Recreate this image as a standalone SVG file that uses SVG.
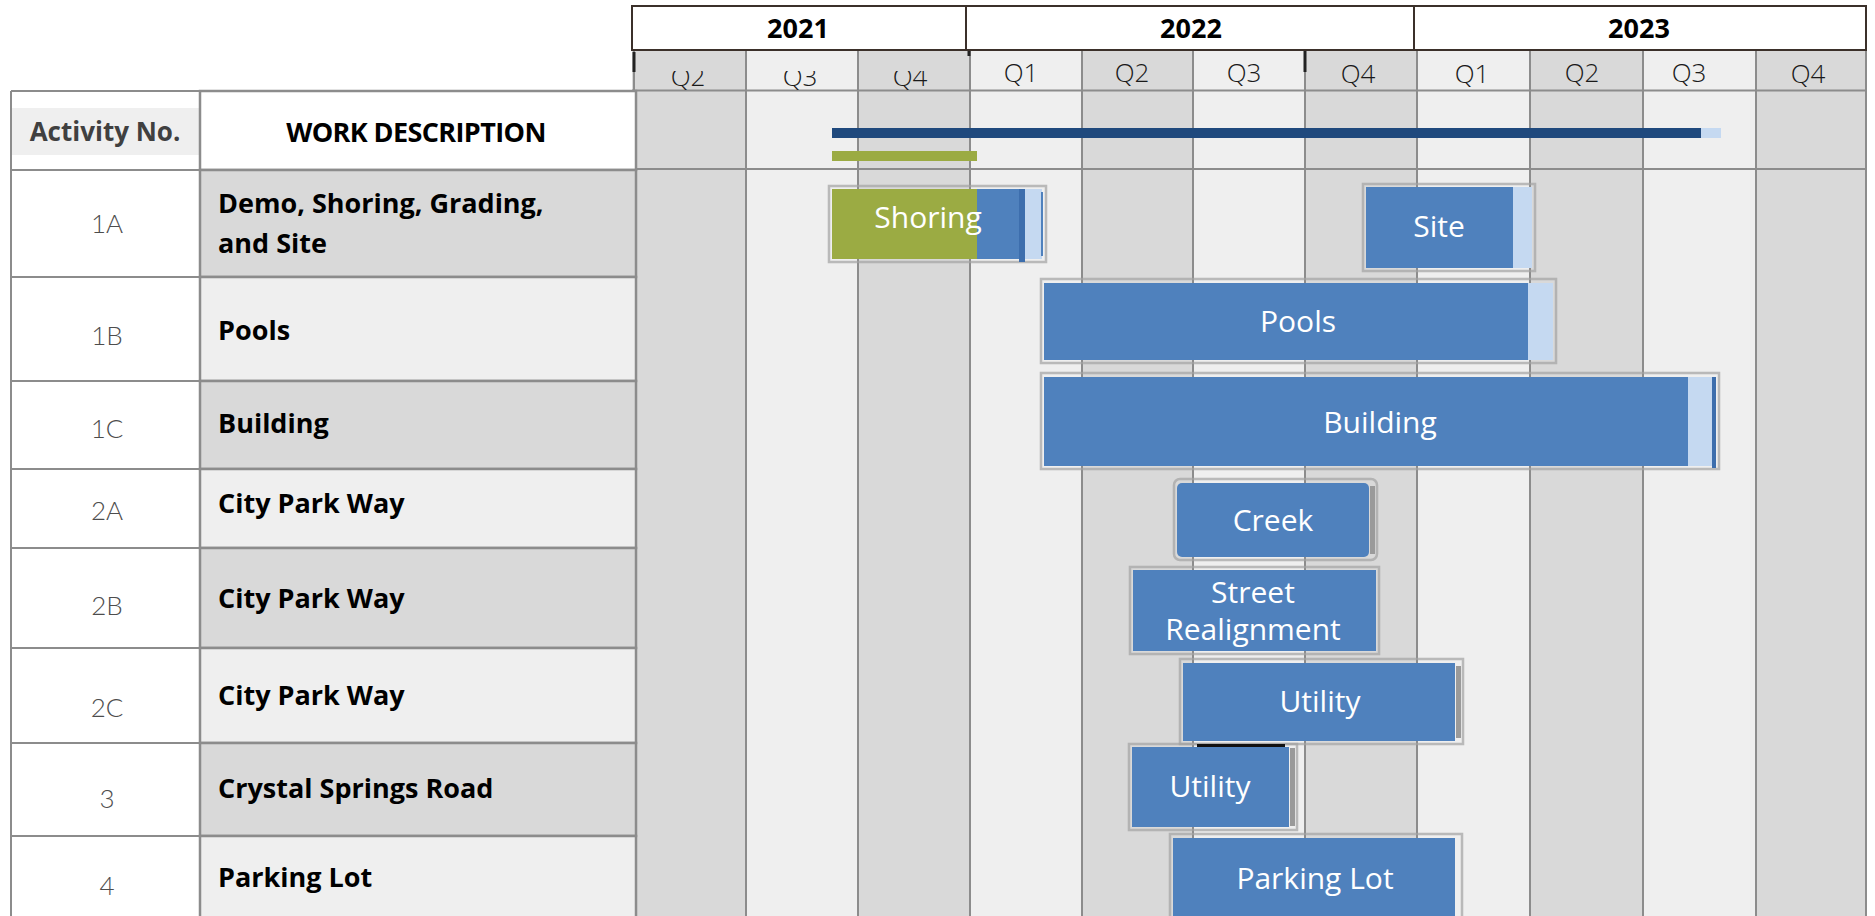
<svg xmlns="http://www.w3.org/2000/svg" width="1875" height="916" viewBox="0 0 1875 916">
<style>
.cd{fill:#d9d9d9}
.cl{fill:#efefef}
.gl{stroke:#8c8c8c;stroke-width:2;fill:none}
.yb{fill:#fff;stroke:#3b302a;stroke-width:2}
.yt{font-family:"Open Sans","Liberation Sans",sans-serif;font-weight:700;font-size:27px;fill:#000;text-anchor:middle}
.qt{font-family:"Open Sans","Liberation Sans",sans-serif;font-weight:300;font-size:26px;fill:#1a1a1a;text-anchor:middle}
.an{font-family:Lato,"Open Sans",sans-serif;font-weight:300;font-size:26px;fill:#4d4d4d;text-anchor:middle}
.ds{font-family:"Open Sans","Liberation Sans",sans-serif;font-weight:700;font-size:27px;fill:#000}
.cell{stroke:#8c8c8c;stroke-width:2.5}
.blk{fill:#4f81bd}
.lb{fill:#c5d9f1}
.sh{fill:none;stroke:#a3a3a3;stroke-width:2.5;opacity:.7}
.bt{font-family:"Open Sans","Liberation Sans",sans-serif;font-weight:400;font-size:30px;fill:#fff;text-anchor:middle}
</style>
<defs>
<clipPath id="qclip"><rect x="632" y="71" width="340" height="30"/></clipPath>
</defs>
<rect width="1875" height="916" fill="#fff"/>

<g id="chart-grid">
<rect class="cd" x="632" y="50" width="114" height="866"/>
<rect class="cl" x="746" y="50" width="112" height="866"/>
<rect class="cd" x="858" y="50" width="112" height="866"/>
<rect class="cl" x="970" y="50" width="112" height="866"/>
<rect class="cd" x="1082" y="50" width="111" height="866"/>
<rect class="cl" x="1193" y="50" width="112" height="866"/>
<rect class="cd" x="1305" y="50" width="112" height="866"/>
<rect class="cl" x="1417" y="50" width="113" height="866"/>
<rect class="cd" x="1530" y="50" width="113" height="866"/>
<rect class="cl" x="1643" y="50" width="113" height="866"/>
<rect class="cd" x="1756" y="50" width="110" height="866"/>
<path class="gl" d="M634 50V916M746 50V916M858 50V916M970 50V916M1082 50V916M1193 50V916M1305 50V916M1417 50V916M1530 50V916M1643 50V916M1756 50V916M1866 50V916"/>
<path class="gl" d="M632 90.5H1866M632 169H1866"/>
<path d="M634 52V72M1305 50V72M969 50V56" stroke="#222" stroke-width="3"/>
</g>

<g id="year-headers">
<rect class="yb" x="632" y="6" width="334" height="44"/>
<rect class="yb" x="966" y="6" width="448" height="44"/>
<rect class="yb" x="1414" y="6" width="452" height="44"/>
<text class="yt" x="798" y="38">2021</text>
<text class="yt" x="1191" y="38">2022</text>
<text class="yt" x="1639" y="38">2023</text>
</g>

<g id="quarter-headers">
<g clip-path="url(#qclip)">
<text class="qt" x="688" y="86">Q2</text>
<text class="qt" x="800" y="86">Q3</text>
<text class="qt" x="910" y="86">Q4</text>
</g>
<text class="qt" x="1021" y="82">Q1</text>
<text class="qt" x="1132" y="82">Q2</text>
<text class="qt" x="1244" y="82">Q3</text>
<text class="qt" x="1358" y="83">Q4</text>
<text class="qt" x="1472" y="83">Q1</text>
<text class="qt" x="1582" y="82">Q2</text>
<text class="qt" x="1689" y="82">Q3</text>
<text class="qt" x="1808" y="83">Q4</text>
</g>

<g id="summary-bars">
<rect x="832" y="128" width="869" height="10" fill="#1f497d"/>
<rect x="1701" y="128" width="20" height="10" class="lb"/>
<rect x="832" y="151" width="145" height="10" fill="#9bab43"/>
</g>

<g id="table">
<path class="gl" d="M11 91V916M11 91H200M11 170H200M11 277H200M11 381H200M11 469H200M11 548H200M11 648H200M11 743H200M11 836H200"/>
<rect x="12" y="108" width="187" height="47" class="cl"/>
<text x="105" y="141" font-family="'Open Sans','Liberation Sans',sans-serif" font-weight="700" font-size="26" fill="#404040" text-anchor="middle">Activity No.</text>
<rect x="200" y="91" width="436" height="79" fill="#fff" class="cell"/>
<text x="416" y="142" font-family="'Open Sans','Liberation Sans',sans-serif" font-weight="700" font-size="27" fill="#000" text-anchor="middle" letter-spacing="-0.6">WORK DESCRIPTION</text>
</g>

<g id="row-1A">
<rect x="200" y="170" width="436" height="107" class="cd cell"/>
<text class="an" x="107" y="233">1A</text>
<text class="ds" x="218" y="213">Demo, Shoring, Grading,</text>
<text class="ds" x="218" y="253">and Site</text>
</g>
<g id="row-1B">
<rect x="200" y="277" width="436" height="104" class="cl cell"/>
<text class="an" x="107" y="345">1B</text>
<text class="ds" x="218" y="340">Pools</text>
</g>
<g id="row-1C">
<rect x="200" y="381" width="436" height="88" class="cd cell"/>
<text class="an" x="107" y="438">1C</text>
<text class="ds" x="218" y="433">Building</text>
</g>
<g id="row-2A">
<rect x="200" y="469" width="436" height="79" class="cl cell"/>
<text class="an" x="107" y="520">2A</text>
<text class="ds" x="218" y="513">City Park Way</text>
</g>
<g id="row-2B">
<rect x="200" y="548" width="436" height="100" class="cd cell"/>
<text class="an" x="107" y="615">2B</text>
<text class="ds" x="218" y="608">City Park Way</text>
</g>
<g id="row-2C">
<rect x="200" y="648" width="436" height="95" class="cl cell"/>
<text class="an" x="107" y="717">2C</text>
<text class="ds" x="218" y="705">City Park Way</text>
</g>
<g id="row-3">
<rect x="200" y="743" width="436" height="93" class="cd cell"/>
<text class="an" x="107" y="808">3</text>
<text class="ds" x="218" y="798">Crystal Springs Road</text>
</g>
<g id="row-4">
<rect x="200" y="836" width="436" height="82" class="cl cell"/>
<text class="an" x="107" y="895">4</text>
<text class="ds" x="218" y="887">Parking Lot</text>
</g>

<g id="bar-shoring">
<rect class="sh" x="829" y="186" width="217" height="76"/>
<rect x="832" y="189" width="145" height="70" fill="#9bab43"/>
<rect class="blk" x="977" y="189" width="43" height="70"/>
<rect x="1019" y="189" width="6" height="73" fill="#3d6ead"/>
<rect class="lb" x="1025" y="189" width="17" height="70"/>
<rect x="1041" y="192" width="2" height="64" fill="#4f81bd"/>
<text class="bt" x="928" y="228">Shoring</text>
</g>
<g id="bar-site">
<rect class="sh" x="1363" y="184" width="172" height="87"/>
<rect class="blk" x="1366" y="187" width="147" height="81"/>
<rect class="lb" x="1513" y="187" width="19" height="81"/>
<text class="bt" x="1439" y="237">Site</text>
</g>
<g id="bar-pools">
<rect class="sh" x="1041" y="279" width="515" height="84"/>
<rect class="blk" x="1044" y="283" width="484" height="77"/>
<rect class="lb" x="1528" y="283" width="25" height="77"/>
<text class="bt" x="1298" y="332">Pools</text>
</g>
<g id="bar-building">
<rect class="sh" x="1041" y="373" width="678" height="96"/>
<rect class="blk" x="1044" y="377" width="644" height="89"/>
<rect class="lb" x="1688" y="377" width="24" height="89"/>
<rect x="1712" y="377" width="4" height="91" fill="#3d6ead"/>
<text class="bt" x="1380" y="433">Building</text>
</g>
<g id="bar-creek">
<rect class="sh" x="1174" y="479" width="203" height="81" rx="6"/>
<rect class="blk" x="1177" y="483" width="192" height="74" rx="5"/>
<rect x="1370" y="486" width="5" height="68" fill="#9a9a9a"/>
<text class="bt" x="1273" y="531">Creek</text>
</g>
<g id="bar-street">
<rect class="sh" x="1130" y="567" width="249" height="87"/>
<rect class="blk" x="1133" y="570" width="243" height="81"/>
<text class="bt" x="1253" y="603">Street</text>
<text class="bt" x="1253" y="640">Realignment</text>
</g>
<g id="bar-utility-2c">
<rect class="sh" x="1180" y="659" width="283" height="85"/>
<rect class="blk" x="1183" y="663" width="272" height="78"/>
<rect x="1456" y="666" width="5" height="72" fill="#9a9a9a"/>
<text class="bt" x="1320" y="712">Utility</text>
</g>
<g id="bar-utility-3">
<rect class="sh" x="1129" y="744" width="168" height="86"/>
<rect class="blk" x="1132" y="747" width="157" height="80"/>
<rect x="1197" y="744" width="88" height="3" fill="#111"/>
<rect x="1290" y="748" width="5" height="78" fill="#9a9a9a"/>
<text class="bt" x="1210" y="797">Utility</text>
</g>
<g id="bar-parking">
<rect class="sh" x="1170" y="834" width="292" height="90"/>
<rect class="blk" x="1173" y="838" width="282" height="78"/>
<text class="bt" x="1315" y="889">Parking Lot</text>
</g>
</svg>
